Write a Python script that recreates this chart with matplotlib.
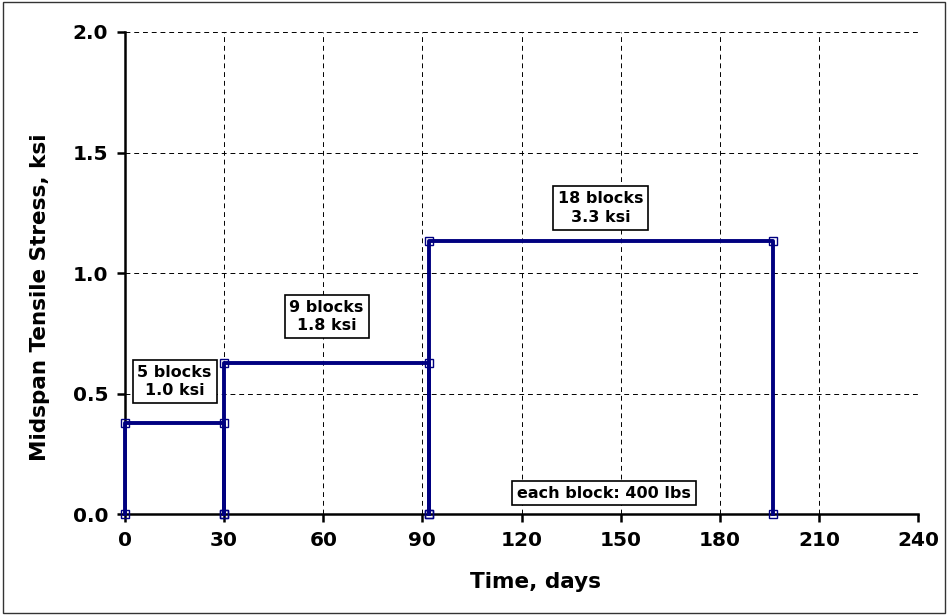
import matplotlib
matplotlib.use('Agg')
import matplotlib.pyplot as plt
from matplotlib.patches import Rectangle

# step loading history
t1 = [0, 0, 30, 30]
s1 = [0, 0.378, 0.378, 0]
t2 = [30, 30, 92, 92]
s2 = [0, 0.628, 0.628, 0]
t3 = [92, 92, 196, 196]
s3 = [0, 1.133, 1.133, 0]

labels = ['5 blocks\n1.0 ksi', '9 blocks\n1.8 ksi', '18 blocks\n3.3 ksi', 'each block: 400 lbs']
label_x = [15, 61, 144, 145]
label_y = [0.55, 0.82, 1.27, 0.087]

xticks = [0, 30, 60, 90, 120, 150, 180, 210, 240]
yticks = [0.0, 0.5, 1.0, 1.5, 2.0]

plt.rcParams['font.family'] = 'DejaVu Sans'
plt.rcParams['font.weight'] = 'bold'

fig = plt.figure(figsize=(9.48, 6.15), dpi=100)
ax = fig.add_axes([0.1319, 0.164, 0.8365, 0.784])

navy = '#000080'
for t, s in [(t1, s1), (t2, s2), (t3, s3)]:
    ax.plot(t, s, color=navy, lw=2.8, marker='s', ms=5.5,
            mfc='none', mec=navy, mew=1, zorder=3, clip_on=False)

ax.set_xlim(0, 240)
ax.set_ylim(0, 2.0)
ax.set_xticks(xticks)
ax.set_yticks(yticks)
ax.set_yticklabels(['%.1f' % v for v in yticks])
ax.tick_params(labelsize=14.5, width=1.8, length=6, direction='out', pad=6)
for lab in ax.get_xticklabels() + ax.get_yticklabels():
    lab.set_fontweight('bold')
ax.grid(True, color='black', ls=(0, (5, 4)), lw=0.7)
ax.set_axisbelow(True)
for sp in ['top', 'right']:
    ax.spines[sp].set_visible(False)
for sp in ['left', 'bottom']:
    ax.spines[sp].set_linewidth(1.8)

ax.set_xlabel('Time, days', fontsize=15.5, fontweight='bold')
ax.xaxis.set_label_coords(0.518, -0.12)
ax.set_ylabel('Midspan Tensile Stress, ksi', fontsize=15.5, fontweight='bold')
ax.yaxis.set_label_coords(-0.094, 0.45)

for txt, x, y in zip(labels, label_x, label_y):
    ax.text(x, y, txt, ha='center', va='center', fontsize=11.5, fontweight='bold',
            linespacing=1.3, zorder=4,
            bbox=dict(boxstyle='square,pad=0.3', fc='white', ec='black', lw=1.2))

fig.patches.append(Rectangle((0.003, 0.004), 0.994, 0.992, transform=fig.transFigure,
                             fill=False, ec='#333333', lw=1))

fig.savefig('out.png', dpi=100)
